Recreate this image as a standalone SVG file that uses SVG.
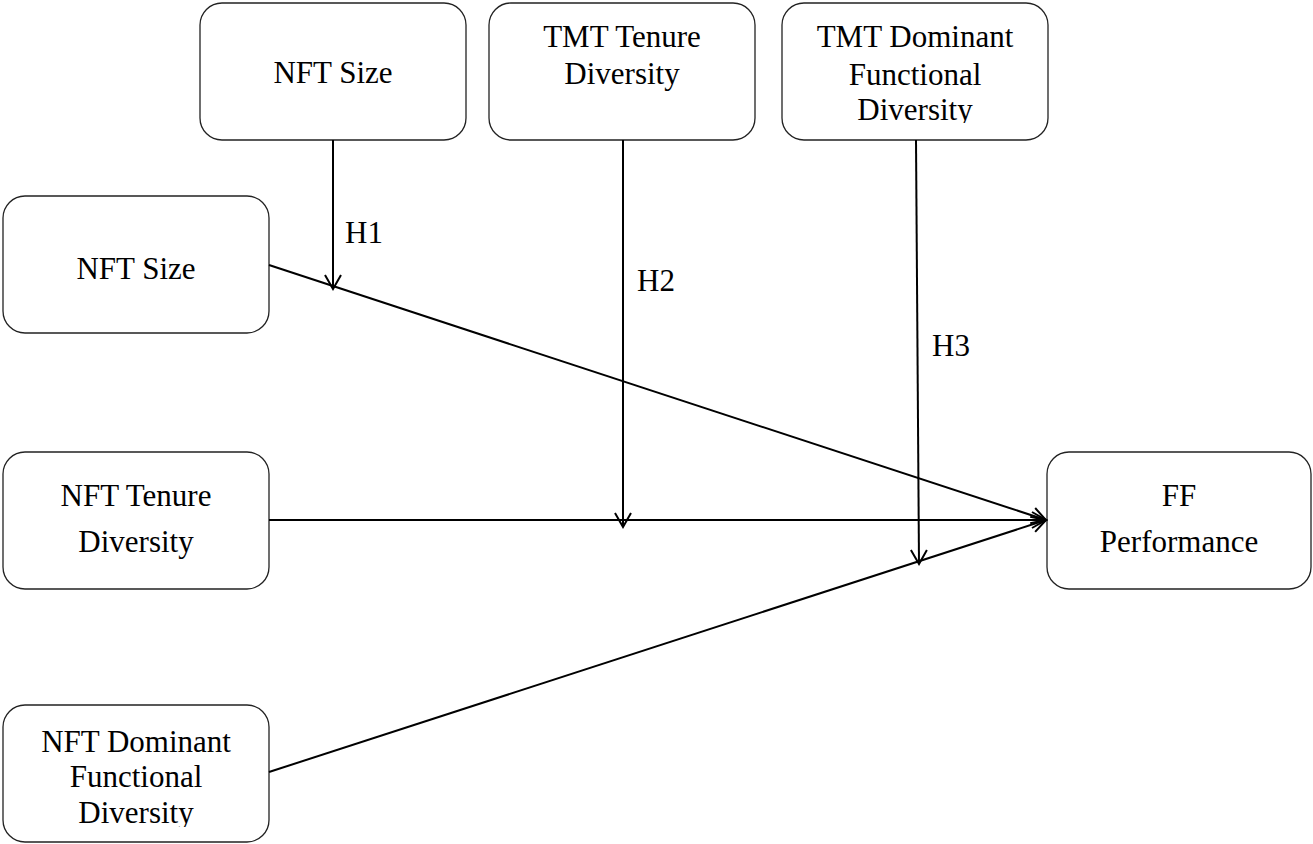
<svg xmlns="http://www.w3.org/2000/svg" width="1313" height="844" viewBox="0 0 1313 844">
<style>
.box{fill:#fff;stroke:#222;stroke-width:1.3}
.t{font-family:'Liberation Serif','Times New Roman','DejaVu Serif',serif;font-size:31px;fill:#000;text-anchor:middle}
.lbl{font-family:'Liberation Serif','Times New Roman','DejaVu Serif',serif;font-size:31px;fill:#000}
.c{stroke:#000;stroke-width:2;fill:none}
</style>
<defs>
<marker id="arr" markerUnits="userSpaceOnUse" viewBox="-2 -2 18 20" markerWidth="18" markerHeight="20" refX="14" refY="8" orient="auto">
<path d="M0,0 L14,8 L0,16" fill="none" stroke="#000" stroke-width="2"/>
</marker>
<clipPath id="clipTop"><rect x="782" y="0" width="268" height="123"/></clipPath>
<clipPath id="clipBot"><rect x="0" y="700" width="270" height="127"/></clipPath>
</defs>
<rect width="1313" height="844" fill="#fff"/>
<g id="top-nft-size">
<rect class="box" x="200" y="3" width="266" height="137" rx="22"/>
<text class="t" x="333" y="83">NFT Size</text>
</g>
<g id="top-tmt-tenure">
<rect class="box" x="489" y="3" width="266" height="137" rx="22"/>
<text class="t" x="622" y="47">TMT Tenure</text>
<text class="t" x="622" y="84">Diversity</text>
</g>
<g id="top-tmt-dominant">
<rect class="box" x="782" y="3" width="266" height="137" rx="22"/>
<g clip-path="url(#clipTop)">
<text class="t" x="915" y="47">TMT Dominant</text>
<text class="t" x="915" y="85">Functional</text>
<text class="t" x="915" y="120">Diversity</text>
</g>
</g>
<g id="left-nft-size">
<rect class="box" x="3" y="196" width="266" height="137" rx="22"/>
<text class="t" x="136" y="279">NFT Size</text>
</g>
<g id="left-nft-tenure">
<rect class="box" x="3" y="452" width="266" height="137" rx="22"/>
<text class="t" x="136" y="506">NFT Tenure</text>
<text class="t" x="136" y="552">Diversity</text>
</g>
<g id="left-nft-dominant">
<rect class="box" x="3" y="705" width="266" height="137" rx="22"/>
<g clip-path="url(#clipBot)">
<text class="t" x="136" y="752">NFT Dominant</text>
<text class="t" x="136" y="787">Functional</text>
<text class="t" x="136" y="823">Diversity</text>
</g>
</g>
<g id="ff-performance">
<rect class="box" x="1047" y="452" width="264" height="137" rx="22"/>
<text class="t" x="1179" y="506">FF</text>
<text class="t" x="1179" y="552">Performance</text>
</g>
<g id="connectors">
<line class="c" x1="269" y1="265" x2="1046" y2="520" marker-end="url(#arr)"/>
<line class="c" x1="269" y1="520" x2="1046" y2="520" marker-end="url(#arr)"/>
<line class="c" x1="269" y1="772" x2="1046" y2="520" marker-end="url(#arr)"/>
<line class="c" x1="333" y1="140" x2="333" y2="289" marker-end="url(#arr)"/>
<line class="c" x1="623" y1="140" x2="623" y2="527" marker-end="url(#arr)"/>
<line class="c" x1="916" y1="140" x2="919" y2="564" marker-end="url(#arr)"/>
<text class="lbl" x="345" y="243">H1</text>
<text class="lbl" x="637" y="291">H2</text>
<text class="lbl" x="932" y="356">H3</text>
</g>
</svg>
